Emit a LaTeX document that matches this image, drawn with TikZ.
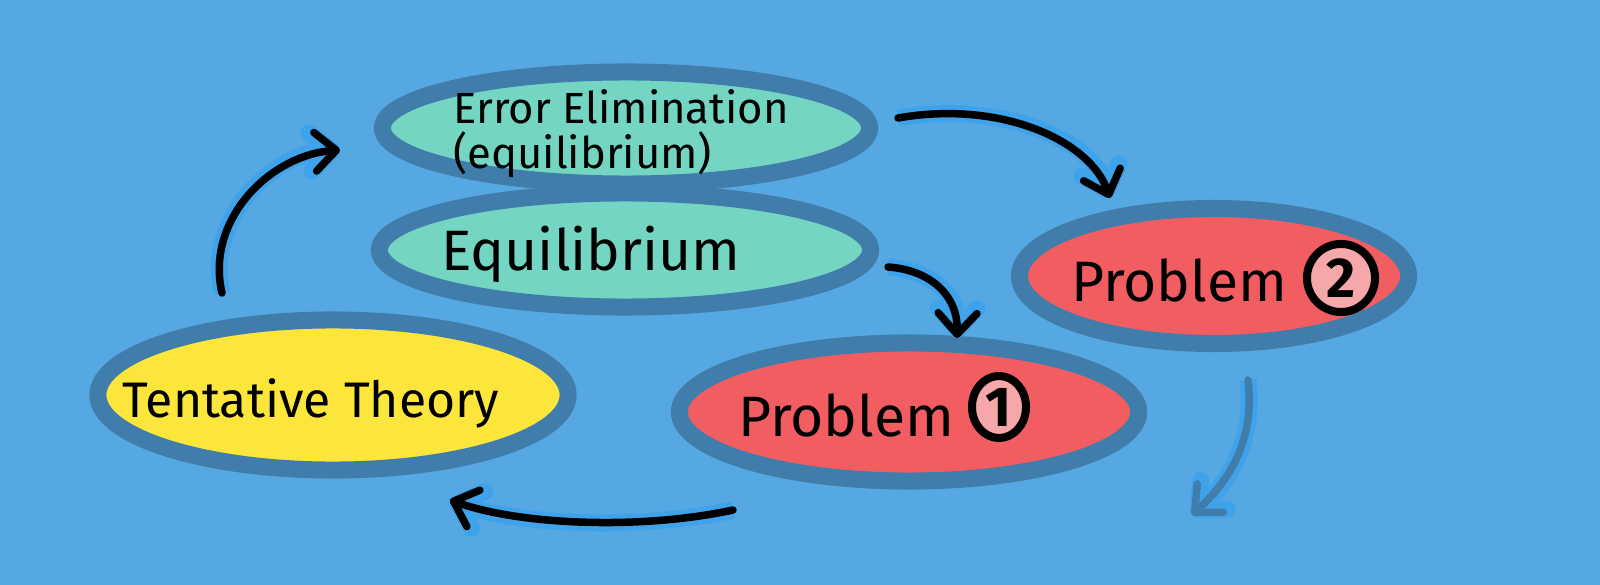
\documentclass[tikz,border=0pt]{standalone}
\usepackage{fontspec}
\setmainfont{Fira Sans}
\usetikzlibrary{arrows.meta,shapes.geometric}

\definecolor{bgblue}{HTML}{56A8E2}
\definecolor{rimblue}{HTML}{417DAA}
\definecolor{haloblue}{HTML}{3EA3EA}
\definecolor{tealfill}{HTML}{74D6C2}
\definecolor{redfill}{HTML}{F25D62}
\definecolor{yellowfill}{HTML}{FDE63B}
\definecolor{pinkfill}{HTML}{F6A7AA}

\begin{document}
\begin{tikzpicture}[x=0.01cm, y=-0.01cm,
  bubble/.style={shape=ellipse, draw=rimblue, line width=0.17cm, inner sep=0pt},
  numcirc/.style={shape=circle, draw=black, line width=0.08cm, fill=pinkfill, inner sep=0pt, font=\fontsize{16}{16}\selectfont\bfseries},
  probfont/.style={font=\fontsize{16.2}{17}\selectfont},
  arr/.style={line width=0.075cm, line cap=round, -{Straight Barb[length=6pt, width=11pt, round]},
    preaction={draw=haloblue, line width=0.17cm}},
  fadearr/.style={arr, draw=rimblue}]
\fill[bgblue] (0,0) rectangle (1600,585);
\useasboundingbox (0,0) rectangle (1600,585);

% bubbles
\node[bubble, fill=tealfill, minimum width=4.87cm, minimum height=1.12cm] (errel) at (626,128) {};
\node[bubble, fill=tealfill, minimum width=4.91cm, minimum height=1.14cm] (equil) at (625,250) {};
\node[bubble, fill=yellowfill, minimum width=4.70cm, minimum height=1.50cm] (tent) at (333,395) {};
\node[bubble, fill=redfill, minimum width=3.89cm, minimum height=1.35cm] (prob2) at (1214,276) {};
\node[bubble, fill=redfill, minimum width=4.59cm, minimum height=1.38cm] (prob1) at (909,412) {};

% texts
\node[align=left, font=\fontsize{12.4}{12.8}\selectfont] (errtxt) at (621,134) {Error Elimination\\(equilibrium)};
\node[font=\fontsize{16.2}{17}\selectfont] (eqtxt) at (591,254) {Equilibrium};
\node[font=\fontsize{14.2}{15}\selectfont] (tenttxt) at (311,403) {Tentative Theory};
\node[probfont] (p2txt) at (1179,280) {Problem};
\node[numcirc, minimum size=0.68cm] (p2num) at (1341,278) {2};
\node[probfont] (p1txt) at (846,415) {Problem};
\node[numcirc, shape=ellipse, minimum width=0.54cm, minimum height=0.62cm] (p1num) at (999,407) {1};

% arrow ends
\coordinate (a1s) at (222,293);
\coordinate (a1e) at (340,150);
\coordinate (a2s) at (898,118);
\coordinate (a2e) at (1110,198);
\coordinate (a3s) at (888,267);
\coordinate (a3e) at (957,338);
\coordinate (a4s) at (733,510);
\coordinate (a4e) at (450,500);
\coordinate (a5s) at (1248,380);
\coordinate (a5e) at (1192,515);

\draw[arr] (a1s) .. controls (205,220) and (270,155) .. (a1e);
\draw[arr] (a2s) .. controls (1000,100) and (1090,140) .. (a2e);
\draw[arr] (a3s) .. controls (930,270) and (958,295) .. (a3e);
\draw[arr] (a4s) .. controls (640,530) and (520,525) .. (a4e);
\draw[fadearr] (a5s) .. controls (1255,440) and (1230,480) .. (a5e);
\end{tikzpicture}
\end{document}
